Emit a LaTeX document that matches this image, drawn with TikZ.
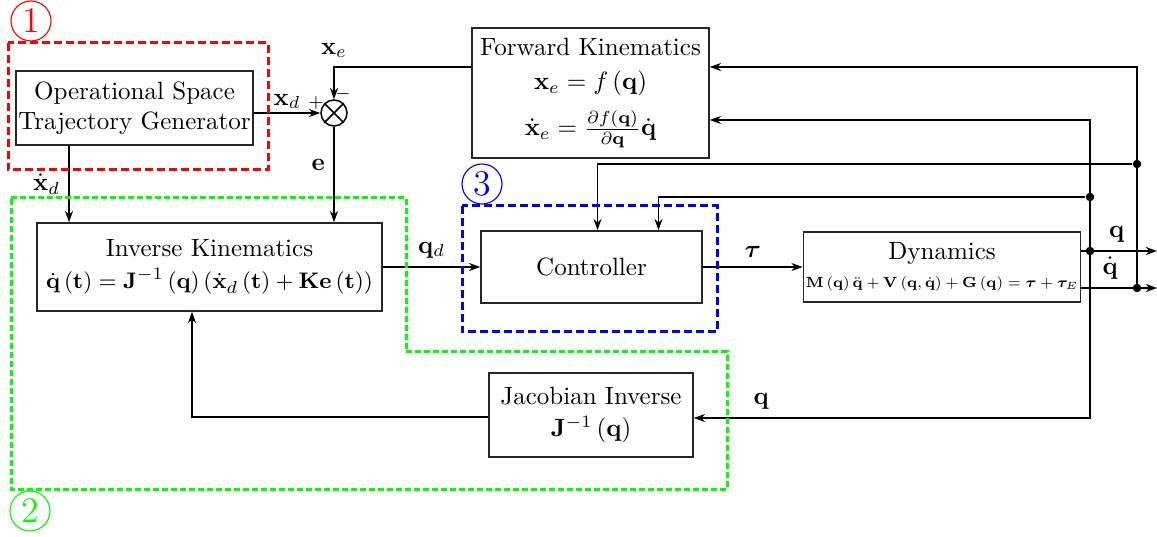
\documentclass[tikz,border=0pt]{standalone}
\usepackage{amsmath,amssymb,bm,graphicx}
\usepackage{tikz}
\usetikzlibrary{positioning,arrows.meta,calc}
\tikzset{
  blk/.style={rectangle,draw=black!85,line width=0.6pt,align=center,inner sep=1pt},
  fl/.style={-{Stealth[length=4.5pt,width=3.2pt,inset=1.4pt]},line width=0.6pt},
  ln/.style={line width=0.6pt},
  jn/.style={circle,fill,inner sep=0pt,minimum size=3.4pt},
  grp/.style={line width=1.2pt,dash pattern=on 3.2pt off 1.6pt},
  tag/.style={circle,draw,line width=0.45pt,inner sep=0pt,minimum size=16pt,font=\Large},
}

\begin{document}
\begin{tikzpicture}[x=0.4pt,y=-0.4pt]
  \useasboundingbox (0,0) rectangle (1157,537);
  % blocks
  \node[blk,minimum width=94pt,minimum height=29.6pt] (gen) at (134.5,108) {Operational Space\\Trajectory Generator};
  \node[circle,draw,ln,minimum size=10.4pt,inner sep=0pt] (sum) at (334,113) {};
  \draw[ln] (sum.north west) -- (sum.south east) (sum.north east) -- (sum.south west);
  \node[blk,minimum width=94.8pt,minimum height=52pt] (fk) at (590.5,93) {Forward Kinematics\\[1.5pt]
    $\mathbf{x}_e=f\left(\mathbf{q}\right)$\\[5pt]
    $\dot{\mathbf{x}}_e=\frac{\partial f(\mathbf{q})}{\partial\mathbf{q}}\dot{\mathbf{q}}$};
  \node[blk,minimum width=138pt,minimum height=35.2pt] (ik) at (209.5,267) {Inverse Kinematics\\[1pt]
    {\fontsize{9.45}{11}\selectfont$\dot{\mathbf{q}}\left(\mathbf{t}\right)=\mathbf{J}^{-1}\left(\mathbf{q}\right)\left(\dot{\mathbf{x}}_d\left(\mathbf{t}\right)+\mathbf{K}\mathbf{e}\left(\mathbf{t}\right)\right)$}};
  \node[blk,minimum width=88.4pt,minimum height=28.8pt] (ctrl) at (591.5,267) {Controller};
  \node[blk,minimum width=109.6pt,minimum height=28pt] (dyn) at (942,267) {Dynamics\\[-1pt]
    \scalebox{0.84}{\scriptsize$\mathbf{M}\left(\mathbf{q}\right)\ddot{\mathbf{q}}+\mathbf{V}\left(\mathbf{q},\dot{\mathbf{q}}\right)+\mathbf{G}\left(\mathbf{q}\right)=\boldsymbol{\tau}+\boldsymbol{\tau}_E$}};
  \node[blk,minimum width=81.6pt,minimum height=33.6pt] (ji) at (591,415) {Jacobian Inverse\\[1pt]
    $\mathbf{J}^{-1}\left(\mathbf{q}\right)$};

  % junctions
  \coordinate (qo) at (1090,251);
  \coordinate (qdo) at (1137,288);
  \coordinate (qtop) at (1090,120);
  \coordinate (qdtop) at (1137,67);
  \node[jn] (j1) at (qo) {};
  \node[jn] (j2) at (qdo) {};
  \node[jn] (j3) at (1137,164) {};
  \node[jn] (j4) at (1090,197) {};
  \coordinate (qend) at (1157,251);
  \coordinate (qdend) at (1157,288);

  % signals
  \draw[fl] (gen.east |- sum.west) -- node[above=-2pt]{$\mathbf{x}_d$} (sum.west);
  \draw[fl] ([yshift=10.4pt]fk.west) -| node[pos=.5,above]{$\mathbf{x}_e$} (sum.north);
  \node[font=\scriptsize] at ($(sum)+(-18,-10)$) {$+$};
  \node[font=\scriptsize] at ($(sum)+(9,-19)$) {$-$};
  \draw[fl] (sum.south) -- node[pos=.4,left]{$\mathbf{e}$} (sum.south |- ik.north);
  \draw[fl] ([xshift=21.6pt]gen.south west) -- node[left]{$\dot{\mathbf{x}}_d$} ([xshift=21.6pt]gen.south west |- ik.north);
  \draw[fl] (ik.east) -- node[above]{$\mathbf{q}_d$} (ik.east -| ctrl.west);
  \draw[fl] (ctrl.east) -- node[above]{$\boldsymbol{\tau}$} (ctrl.east -| dyn.west);
  \draw[ln] (dyn.east |- qo) -- (qo);
  \draw[fl] (qo) -- node[above,pos=.4]{$\mathbf{q}$} (qend);
  \draw[fl] (dyn.east |- qdo) -- node[above,pos=.38]{$\dot{\mathbf{q}}$} (qdend);
  \draw[fl] (qdo) -- (qdtop) -- (qdtop -| fk.east);
  \draw[fl] (qo) -- (qtop) -- (qtop -| fk.east);
  \draw[fl] (j3) -| ([xshift=2.4pt]ctrl.north);
  \draw[fl] (j4) -| ([xshift=26.8pt]ctrl.north);
  \draw[fl] (qo) |- node[pos=.915,above]{$\mathbf{q}$} ([yshift=-1.2pt]ji.east);
  \draw[fl] ([yshift=-0.8pt]ji.west) -| (ik.south -| 192,0);

  % groups
  \draw[grp,red] (8,43) rectangle (268,170);
  \draw[grp,blue] (462,206) rectangle (717,332);
  \draw[grp,green,dash pattern=on 2.4pt off 1.2pt] (11,198) -- (406,198) -- (406,352) -- (727,352) -- (727,489) -- (11,489) -- cycle;
  \node[tag,red] (t1) at (31,21) {1};
  \node[tag,green] (t2) at (30,511) {2};
  \node[tag,blue] (t3) at (482,184) {3};
\end{tikzpicture}
\end{document}
